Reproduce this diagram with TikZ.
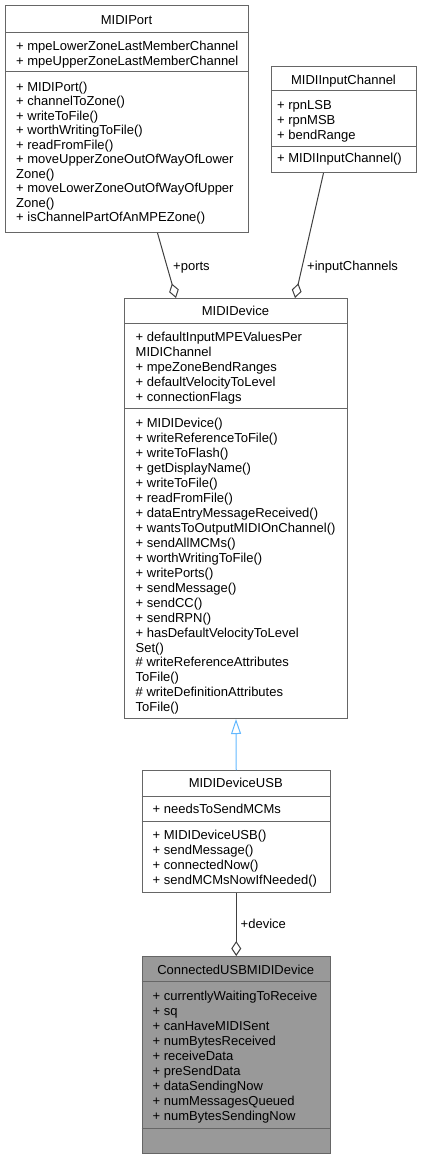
\documentclass[tikz,border=0pt]{standalone}
\usepackage{fontspec}
\setmainfont{Liberation Sans}
\usetikzlibrary{arrows.meta}
\definecolor{boxline}{HTML}{666666}
\definecolor{edgecol}{HTML}{404040}
\definecolor{inhcol}{HTML}{63B8FF}
\definecolor{hifill}{HTML}{999999}
\begin{document}
\begin{tikzpicture}[x=1pt,y=-1pt,
  cls/.style={draw=boxline, line width=1pt, fill=white, inner sep=0pt, anchor=north west},
  hicls/.style={cls, fill=hifill},
  sepline/.style={draw=boxline, line width=1pt},
  ttl/.style={anchor=base, inner sep=0pt, font=\fontsize{13}{15}\selectfont},
  txt/.style={anchor=base west, inner sep=0pt, font=\fontsize{13}{15}\selectfont},
  lbl/.style={anchor=base west, inner sep=0pt, font=\fontsize{13}{15}\selectfont},
  assoc/.style={draw=edgecol, line width=1pt, -{Diamond[open,length=15pt,width=10pt]}},
  inherit/.style={draw=inhcol, line width=1pt, -{Triangle[open,length=15pt,width=10pt]}}]
\useasboundingbox (0,0) rectangle (424,1159);

% ---------- MIDIPort ----------
\node[cls, minimum width=243pt, minimum height=227pt] (port) at (5,5) {};
\draw[sepline] (5,32.5) -- (248,32.5);
\draw[sepline] (5,71) -- (248,71);
\node[ttl] (portT) at (126.5,24) {MIDIPort};
\foreach \t [count=\i] in {{+ mpeLowerZoneLastMemberChannel},{+ mpeUpperZoneLastMemberChannel}}
  \node[txt] (portA\i) at (16,{50+(\i-1)*15}) {\t};
\foreach \t [count=\i] in {{+ MIDIPort()},{+ channelToZone()},{+ writeToFile()},{+ worthWritingToFile()},{+ readFromFile()},{+ moveUpperZoneOutOfWayOfLower},{Zone()},{+ moveLowerZoneOutOfWayOfUpper},{Zone()},{+ isChannelPartOfAnMPEZone()}}
  \node[txt] (portM\i) at (16,{91.5+(\i-1)*14.45}) {\t};

% ---------- MIDIInputChannel ----------
\node[cls, minimum width=145pt, minimum height=106pt] (inch) at (271,66) {};
\draw[sepline] (271,90) -- (416,90);
\draw[sepline] (271,146) -- (416,146);
\node[ttl] (inchT) at (343.5,84.5) {MIDIInputChannel};
\foreach \t [count=\i] in {{+ rpnLSB},{+ rpnMSB},{+ bendRange}}
  \node[txt] (inchA\i) at (277,{109.5+(\i-1)*14.8}) {\t};
\node[txt] (inchM1) at (277,162.5) {+ MIDIInputChannel()};

% ---------- MIDIDevice ----------
\node[cls, minimum width=223pt, minimum height=420pt] (dev) at (124,298) {};
\draw[sepline] (124,323) -- (347,323);
\draw[sepline] (124,408) -- (347,408);
\node[ttl] (devT) at (235.5,315.5) {MIDIDevice};
\foreach \t [count=\i] in {{+ defaultInputMPEValuesPer},{MIDIChannel},{+ mpeZoneBendRanges},{+ defaultVelocityToLevel},{+ connectionFlags}}
  \node[txt] (devA\i) at (135.5,{341.5+(\i-1)*15}) {\t};
\foreach \t [count=\i] in {{+ MIDIDevice()},{+ writeReferenceToFile()},{+ writeToFlash()},{+ getDisplayName()},{+ writeToFile()},{+ readFromFile()},{+ dataEntryMessageReceived()},{+ wantsToOutputMIDIOnChannel()},{+ sendAllMCMs()},{+ worthWritingToFile()},{+ writePorts()},{+ sendMessage()},{+ sendCC()},{+ sendRPN()},{+ hasDefaultVelocityToLevel},{Set()},{\# writeReferenceAttributes},{ToFile()},{\# writeDefinitionAttributes},{ToFile()}}
  \node[txt] (devM\i) at (135.5,{427.3+(\i-1)*14.98}) {\t};

% ---------- MIDIDeviceUSB ----------
\node[cls, minimum width=188.5pt, minimum height=122pt] (usb) at (141.5,770) {};
\draw[sepline] (141.5,796) -- (330,796);
\draw[sepline] (141.5,821) -- (330,821);
\node[ttl] (usbT) at (235.75,787.5) {MIDIDeviceUSB};
\node[txt] (usbA1) at (152.5,813.5) {+ needsToSendMCMs};
\foreach \t [count=\i] in {{+ MIDIDeviceUSB()},{+ sendMessage()},{+ connectedNow()},{+ sendMCMsNowIfNeeded()}}
  \node[txt] (usbM\i) at (152.5,{839.5+(\i-1)*15}) {\t};

% ---------- ConnectedUSBMIDIDevice ----------
\node[hicls, minimum width=188.5pt, minimum height=197pt] (conn) at (141.5,956) {};
\draw[sepline] (141.5,981) -- (330,981);
\draw[sepline] (141.5,1128) -- (330,1128);
\node[ttl] (connT) at (235.75,974) {ConnectedUSBMIDIDevice};
\foreach \t [count=\i] in {{+ currentlyWaitingToReceive},{+ sq},{+ canHaveMIDISent},{+ numBytesReceived},{+ receiveData},{+ preSendData},{+ dataSendingNow},{+ numMessagesQueued},{+ numBytesSendingNow}}
  \node[txt] (connA\i) at (152.5,{1000.5+(\i-1)*14.95}) {\t};

% ---------- connectors ----------
\draw[assoc] (157.5,0 |- port.south) -- (176,0 |- dev.north);
\node[lbl] (portsL) at (173,270.5) {+ports};
\draw[assoc] (323.5,0 |- inch.south) -- (295,0 |- dev.north);
\node[lbl] (inchL) at (307,270.5) {+inputChannels};
\draw[inherit] (usb.north) -- (dev.south);
\draw[assoc] (usb.south) -- (conn.north);
\node[lbl] (devL) at (240.5,928.5) {+device};
\end{tikzpicture}
\end{document}
